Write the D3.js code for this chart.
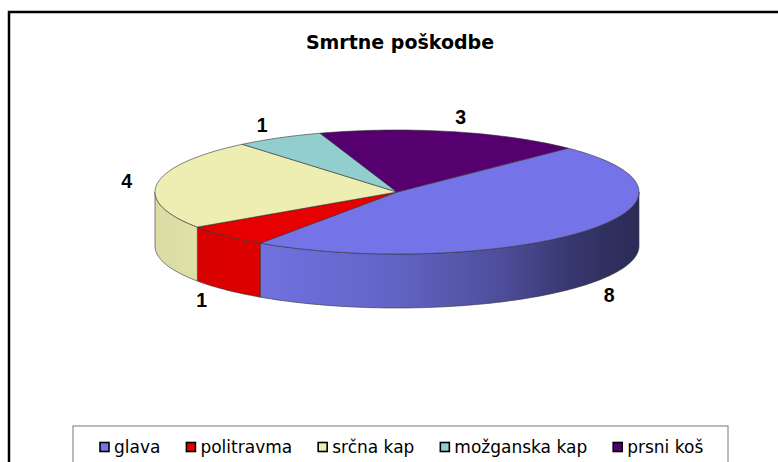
<!DOCTYPE html>
<meta charset="utf-8">
<style>
body { margin: 0; background: #fff; }
.title { font-family: 'DejaVu Sans', sans-serif; font-weight: bold; font-size: 19px; }
.lbl { font-family: 'Liberation Sans', Arial, sans-serif; font-weight: bold; font-size: 19.5px; }
.legend text { font-family: 'DejaVu Sans', sans-serif; font-size: 17px; }
</style>
<body>
<svg width="778" height="462"></svg>
<script src="https://cdn.jsdelivr.net/npm/d3@7"></script>
<script>

var title = "Smrtne poškodbe";
var categories = ["glava", "politravma", "srčna kap", "možganska kap", "prsni koš"];
var values = [8, 1, 4, 1, 3];
var colors = ["#7474e8", "#e60000", "#eeeeb3", "#93cece", "#560070"];

var svg = d3.select("svg");

// pie geometry (top ellipse)
var cx = 397, cy = 192, rx = 242, ry = 62, depth = 54;

function pt(a, dy) {
  return [cx + rx * Math.sin(a), cy - ry * Math.cos(a) + (dy || 0)];
}

// outer frame
svg.append("rect")
  .attr("x", 9).attr("y", 12)
  .attr("width", 800).attr("height", 500)
  .attr("fill", "none")
  .attr("stroke", "#000")
  .attr("stroke-width", 2.5);

svg.append("text")
  .attr("class", "title")
  .attr("x", 400).attr("y", 49)
  .attr("text-anchor", "middle")
  .text(title);

var pie = d3.pie().sort(null)
  .startAngle(Math.PI / 4)
  .endAngle(Math.PI / 4 + 2 * Math.PI);
var arcs = pie(values);

// side shading, light on the left, dark on the right
var defs = svg.append("defs");
var shade = [[0, .92], [.22, .97], [.5, .85], [.72, .66], [.84, .5], [.92, .42], [1, .38]];
colors.forEach(function(c, i) {
  var g = defs.append("linearGradient")
    .attr("id", "side" + i)
    .attr("gradientUnits", "userSpaceOnUse")
    .attr("x1", cx - rx).attr("x2", cx + rx)
    .attr("y1", 0).attr("y2", 0);
  var col = d3.rgb(c);
  shade.forEach(function(s) {
    g.append("stop")
      .attr("offset", s[0])
      .attr("stop-color", d3.rgb(col.r * s[1], col.g * s[1], col.b * s[1]));
  });
});

var line = d3.line();

function arcPoints(a0, a1, dy) {
  var n = Math.max(2, Math.ceil(Math.abs(a1 - a0) * 40));
  return d3.range(n + 1).map(function(k) { return pt(a0 + (a1 - a0) * k / n, dy); });
}

// front walls (visible between PI/2 and 3PI/2)
arcs.forEach(function(d, i) {
  var a0 = Math.max(d.startAngle, Math.PI / 2),
      a1 = Math.min(d.endAngle, 3 * Math.PI / 2);
  if (a1 <= a0) return;
  var pts = arcPoints(a0, a1, 0).concat(arcPoints(a1, a0, depth));
  svg.append("path")
    .attr("d", line(pts) + "Z")
    .attr("fill", "url(#side" + i + ")")
    .attr("stroke", "#333")
    .attr("stroke-width", 0.6)
    .attr("stroke-linejoin", "round");
});

// top faces
svg.selectAll(".slice")
  .data(arcs)
  .enter().append("path")
  .attr("class", "slice")
  .attr("d", function(d) {
    return line([[cx, cy]].concat(arcPoints(d.startAngle, d.endAngle, 0))) + "Z";
  })
  .attr("fill", function(d, i) { return colors[i]; })
  .attr("stroke", "#333")
  .attr("stroke-width", 0.6)
  .attr("stroke-linejoin", "round");

// value labels
svg.selectAll(".lbl")
  .data(arcs)
  .enter().append("text")
  .attr("class", "lbl")
  .attr("text-anchor", "middle")
  .attr("dy", "0.35em")
  .attr("x", function(d) {
    var m = (d.startAngle + d.endAngle) / 2;
    return cx + (rx + 30) * Math.sin(m) + 6 * Math.sin(m) * Math.abs(Math.cos(m));
  })
  .attr("y", function(d) {
    var m = (d.startAngle + d.endAngle) / 2;
    return cy - (ry + 15) * Math.cos(m) + (Math.cos(m) < 0 ? depth : 0);
  })
  .text(function(d) { return d.value; });

// legend
var legend = svg.append("g").attr("class", "legend");
legend.append("rect")
  .attr("x", 73).attr("y", 426)
  .attr("width", 655).attr("height", 60)
  .attr("fill", "#fff")
  .attr("stroke", "#777")
  .attr("stroke-width", 1);

var lx = 100;
categories.forEach(function(c, i) {
  legend.append("rect")
    .attr("x", lx).attr("y", 442.5)
    .attr("width", 9).attr("height", 9)
    .attr("fill", colors[i])
    .attr("stroke", "#000")
    .attr("stroke-width", 1.6);
  var t = legend.append("text")
    .attr("x", lx + 14).attr("y", 452.5)
    .text(c);
  lx += 14 + t.node().getComputedTextLength() + 26;
});

</script>
</body>
